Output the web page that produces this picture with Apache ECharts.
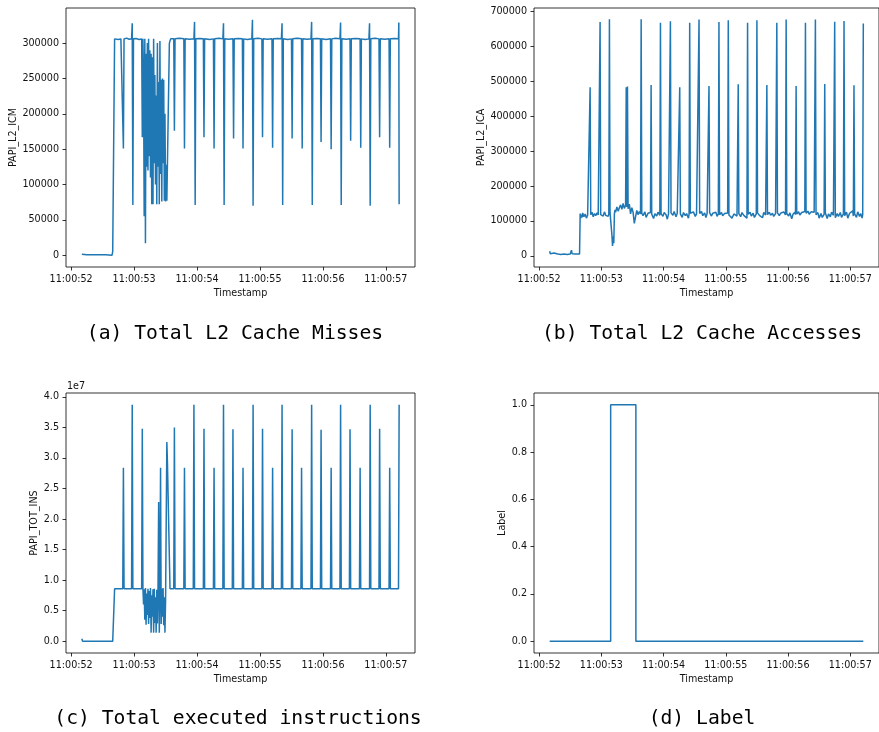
<!DOCTYPE html>
<html>
<head>
<meta charset="utf-8">
<script src="https://cdn.jsdelivr.net/npm/echarts@6/dist/echarts.min.js"></script>
<style>
  html, body { margin: 0; padding: 0; background: #fff; }
  #main { width: 879px; height: 732px; }
</style>
</head>
<body>
<div id="main"></div>
<script>
// tick labels (seconds of 11:00:xx)
var secondTicks = [52, 53, 54, 55, 56, 57];
var icmTicks = [0, 50000, 100000, 150000, 200000, 250000, 300000];
var icaTicks = [0, 100000, 200000, 300000, 400000, 500000, 600000, 700000];
var insTicks = [0, 5e6, 10e6, 15e6, 20e6, 25e6, 30e6, 35e6, 40e6];
var labelTicks = [0, 0.2, 0.4, 0.6, 0.8, 1.0];

// (a) PAPI_L2_ICM  [second, value]
var l2Misses = [
  [52.17, 1500], [52.18, 0], [52.25, 600], [52.26, 0], [52.55, 800], [52.56, 0], [52.65, 0],
  [52.66, 5000], [52.69, 306000], [52.72, 306500], [52.75, 305000], [52.77, 307500], [52.79, 306000],
  [52.82, 306000], [52.83, 151000], [52.84, 306000], [52.88, 307000], [52.92, 305500],
  [52.96, 306000], [52.97, 328000], [52.98, 71000], [52.99, 306000], [53.03, 306500], [53.08, 305000],
  [53.12, 306000], [53.13, 167000], [53.14, 306000], [53.15, 248000], [53.16, 55000], [53.17, 306000],
  [53.18, 17000], [53.19, 285000], [53.2, 125000], [53.21, 300000], [53.22, 120000], [53.23, 306000],
  [53.24, 140000], [53.25, 290000], [53.26, 110000], [53.27, 285000], [53.28, 72000], [53.29, 280000],
  [53.3, 72000], [53.31, 306000], [53.32, 130000], [53.33, 255000], [53.34, 100000], [53.35, 226000],
  [53.36, 72000], [53.37, 300000], [53.38, 125000], [53.39, 245000], [53.4, 72000], [53.41, 303000],
  [53.42, 115000], [53.43, 248000], [53.44, 76000], [53.45, 250000], [53.46, 130000], [53.47, 248000],
  [53.48, 77000], [53.49, 200000], [53.5, 76000], [53.51, 128000], [53.52, 77000], [53.53, 78000],
  [53.56, 300000], [53.58, 306000], [53.61, 305000],
  [53.63, 306000], [53.64, 176000], [53.65, 306000], [53.72, 307000],
  [53.79, 306000], [53.8, 151000], [53.81, 306000], [53.88, 305500],
  [53.95, 306000], [53.96, 330000], [53.97, 71000], [53.98, 306000], [54.04, 306500],
  [54.1, 306000], [54.11, 167000], [54.12, 306000], [54.2, 305000],
  [54.26, 306000], [54.27, 151000], [54.28, 306000], [54.35, 307000],
  [54.41, 306000], [54.42, 328000], [54.43, 71000], [54.44, 306000], [54.5, 305500],
  [54.57, 306000], [54.58, 165000], [54.59, 306000], [54.66, 306500],
  [54.72, 306000], [54.73, 151000], [54.74, 306000], [54.8, 305000],
  [54.87, 306000], [54.88, 333000], [54.89, 70000], [54.9, 306000], [54.97, 307000],
  [55.03, 306000], [55.04, 167000], [55.05, 306000], [55.12, 305500],
  [55.19, 306000], [55.2, 152000], [55.21, 306000], [55.28, 306500],
  [55.34, 306000], [55.35, 328000], [55.36, 71000], [55.37, 306000], [55.44, 305000],
  [55.5, 306000], [55.51, 165000], [55.52, 306000], [55.59, 307000],
  [55.66, 306000], [55.67, 151000], [55.68, 306000], [55.75, 305500],
  [55.81, 306000], [55.82, 330000], [55.83, 71000], [55.84, 306000], [55.9, 306500],
  [55.96, 306000], [55.97, 160000], [55.98, 306000], [56.05, 305000],
  [56.12, 306000], [56.13, 150000], [56.14, 306000], [56.2, 307000],
  [56.27, 306000], [56.28, 329000], [56.29, 71000], [56.3, 306000], [56.37, 305500],
  [56.43, 306000], [56.44, 162000], [56.45, 306000], [56.52, 306500],
  [56.59, 306000], [56.6, 152000], [56.61, 306000], [56.67, 305000],
  [56.73, 306000], [56.74, 328000], [56.75, 70000], [56.76, 306000], [56.83, 307000],
  [56.89, 306000], [56.9, 167000], [56.91, 306000], [56.98, 305500],
  [57.05, 306000], [57.06, 152000], [57.07, 306000], [57.14, 306500],
  [57.2, 306000], [57.205, 329000], [57.21, 72000]
];

// (b) PAPI_L2_ICA  [second, value]
var l2Accesses = [
  [52.17, 13000], [52.18, 6000], [52.2, 5000], [52.24, 8000], [52.25, 4000], [52.3, 5000],
  [52.35, 4000], [52.4, 5000], [52.45, 4000], [52.5, 5000], [52.52, 16000], [52.53, 6000],
  [52.58, 5000], [52.65, 5000], [52.66, 121000], [52.67, 108000], [52.68, 118000], [52.69, 110000],
  [52.7, 123000], [52.72, 112000], [52.74, 120000], [52.76, 108000], [52.78, 117000], [52.8, 113000],
  [52.81, 120000], [52.82, 483000], [52.83, 118000], [52.85, 125000], [52.87, 112000], [52.89, 121000],
  [52.91, 115000], [52.93, 123000], [52.95, 117000], [52.97, 119000], [52.98, 670000], [52.99, 118000],
  [53.01, 122000], [53.03, 114000], [53.05, 126000], [53.07, 116000], [53.09, 121000], [53.11, 113000],
  [53.12, 120000], [53.13, 678000], [53.14, 123000], [53.16, 118000], [53.17, 60000], [53.18, 28000],
  [53.19, 55000], [53.2, 36000], [53.21, 120000], [53.22, 132000], [53.23, 125000], [53.25, 140000],
  [53.27, 128000], [53.29, 138000], [53.31, 146000], [53.33, 133000], [53.35, 150000], [53.37, 136000],
  [53.39, 145000], [53.4, 483000], [53.41, 140000], [53.42, 485000], [53.43, 135000], [53.45, 148000],
  [53.47, 120000], [53.49, 138000], [53.51, 125000], [53.53, 93000], [53.55, 112000], [53.57, 130000],
  [53.59, 118000], [53.61, 127000], [53.63, 120000], [53.64, 678000],
  [53.65, 122000], [53.67, 115000], [53.7, 126000], [53.72, 110000], [53.75, 122000], [53.77, 117000],
  [53.79, 124000], [53.8, 489500],
  [53.81, 119000], [53.84, 107000], [53.86, 121000], [53.89, 114000], [53.91, 125000], [53.94, 116000],
  [53.95, 667600],
  [53.96, 121000], [53.99, 113000], [54.01, 124000], [54.04, 118000], [54.06, 105000], [54.08, 120000],
  [54.1, 117000], [54.11, 672000],
  [54.12, 123000], [54.15, 116000], [54.17, 127000], [54.2, 112000], [54.22, 122000], [54.25, 118000],
  [54.26, 483000],
  [54.27, 120000], [54.3, 110000], [54.32, 124000], [54.35, 115000], [54.37, 121000], [54.4, 108000],
  [54.41, 119000], [54.42, 667600],
  [54.43, 122000], [54.46, 117000], [54.48, 126000], [54.51, 113000], [54.53, 120000], [54.56, 116000],
  [54.57, 677000],
  [54.58, 121000], [54.61, 127000], [54.63, 115000], [54.66, 123000], [54.68, 110000], [54.7, 121000],
  [54.72, 118000], [54.73, 486500],
  [54.74, 124000], [54.77, 114000], [54.79, 122000], [54.82, 117000], [54.84, 125000], [54.86, 113000],
  [54.88, 120000], [54.89, 669600],
  [54.9, 118000], [54.93, 124000], [54.95, 115000], [54.98, 121000], [55.0, 119000], [55.03, 123000],
  [55.04, 675000],
  [55.05, 117000], [55.08, 122000], [55.1, 108000], [55.13, 120000], [55.15, 125000], [55.18, 114000],
  [55.19, 119000], [55.2, 491400],
  [55.21, 121000], [55.24, 112000], [55.26, 124000], [55.29, 116000], [55.31, 121000], [55.34, 108000],
  [55.35, 667600],
  [55.36, 119000], [55.39, 125000], [55.41, 114000], [55.44, 122000], [55.46, 110000], [55.49, 120000],
  [55.5, 675000],
  [55.51, 123000], [55.54, 116000], [55.56, 121000], [55.59, 109000], [55.61, 124000], [55.64, 117000],
  [55.65, 120000], [55.66, 489500],
  [55.67, 118000], [55.7, 125000], [55.72, 116000], [55.75, 122000], [55.77, 113000], [55.8, 121000],
  [55.82, 667600],
  [55.83, 123000], [55.86, 115000], [55.88, 122000], [55.91, 118000], [55.93, 126000], [55.96, 117000],
  [55.97, 677000],
  [55.98, 121000], [56.01, 114000], [56.03, 123000], [56.06, 106000], [56.08, 119000], [56.11, 125000],
  [56.12, 118000], [56.13, 486500],
  [56.14, 120000], [56.17, 126000], [56.19, 117000], [56.22, 124000], [56.24, 121000], [56.27, 127000],
  [56.28, 667600],
  [56.29, 122000], [56.32, 128000], [56.34, 119000], [56.37, 126000], [56.39, 121000], [56.42, 125000],
  [56.44, 677000],
  [56.45, 118000], [56.48, 124000], [56.5, 108000], [56.53, 121000], [56.55, 110000], [56.58, 119000],
  [56.59, 492000],
  [56.6, 123000], [56.63, 107000], [56.65, 120000], [56.68, 112000], [56.7, 125000], [56.73, 116000],
  [56.75, 670500],
  [56.76, 109000], [56.79, 121000], [56.81, 113000], [56.84, 124000], [56.86, 110000], [56.89, 120000],
  [56.9, 673000],
  [56.91, 115000], [56.94, 125000], [56.96, 108000], [56.99, 122000], [57.01, 117000], [57.04, 129000],
  [57.05, 114000], [57.06, 488500],
  [57.07, 120000], [57.1, 110000], [57.12, 126000], [57.15, 113000], [57.17, 121000], [57.19, 108000],
  [57.2, 118000], [57.21, 665700]
];

// (c) PAPI_TOT_INS  [second, value]
var totIns = [
  [52.17, 400000], [52.18, 0], [52.66, 0], [52.69, 8600000],
  [52.82, 8600000], [52.83, 28400000], [52.84, 8600000],
  [52.96, 8600000], [52.97, 38700000], [52.98, 8600000],
  [53.12, 8600000], [53.13, 34800000], [53.14, 8600000],
  [53.15, 6000000], [53.16, 8500000], [53.17, 3500000], [53.18, 8700000], [53.19, 2700000],
  [53.2, 7800000], [53.21, 4300000], [53.22, 8600000], [53.23, 2800000], [53.24, 8200000],
  [53.25, 3800000], [53.26, 8700000], [53.27, 1400000], [53.28, 7500000], [53.29, 4000000],
  [53.3, 8500000], [53.31, 1400000], [53.32, 8600000], [53.33, 3000000], [53.34, 7200000],
  [53.35, 1400000], [53.36, 8400000], [53.37, 2900000], [53.38, 8700000], [53.39, 22800000],
  [53.4, 1400000], [53.41, 8000000], [53.42, 28400000], [53.43, 2800000], [53.44, 8600000],
  [53.45, 4000000], [53.46, 8700000], [53.47, 2600000], [53.48, 7200000], [53.49, 1400000],
  [53.5, 6800000], [53.52, 32600000], [53.53, 29000000], [53.54, 28800000], [53.57, 8600000],
  [53.63, 8600000], [53.64, 35000000], [53.65, 8600000],
  [53.79, 8600000], [53.8, 28400000], [53.81, 8600000],
  [53.94, 8600000], [53.95, 38700000], [53.96, 8600000],
  [54.1, 8600000], [54.11, 34800000], [54.12, 8600000],
  [54.26, 8600000], [54.27, 28400000], [54.28, 8600000],
  [54.41, 8600000], [54.42, 38700000], [54.43, 8600000],
  [54.56, 8600000], [54.57, 34700000], [54.58, 8600000],
  [54.72, 8600000], [54.73, 28400000], [54.74, 8600000],
  [54.88, 8600000], [54.89, 38700000], [54.9, 8600000],
  [55.03, 8600000], [55.04, 34800000], [55.05, 8600000],
  [55.19, 8600000], [55.2, 28400000], [55.21, 8600000],
  [55.34, 8600000], [55.35, 38700000], [55.36, 8600000],
  [55.5, 8600000], [55.51, 34700000], [55.52, 8600000],
  [55.65, 8600000], [55.66, 28400000], [55.67, 8600000],
  [55.81, 8600000], [55.82, 38700000], [55.83, 8600000],
  [55.96, 8600000], [55.97, 34600000], [55.98, 8600000],
  [56.12, 8600000], [56.13, 28400000], [56.14, 8600000],
  [56.27, 8600000], [56.28, 38700000], [56.29, 8600000],
  [56.42, 8600000], [56.43, 34700000], [56.44, 8600000],
  [56.58, 8600000], [56.59, 28400000], [56.6, 8600000],
  [56.74, 8600000], [56.75, 38700000], [56.76, 8600000],
  [56.89, 8600000], [56.9, 34800000], [56.91, 8600000],
  [57.05, 8600000], [57.06, 28400000], [57.07, 8600000],
  [57.2, 8600000], [57.21, 38700000]
];

// (d) Label  [second, value]
var labelSeries = [
  [52.17, 0], [53.15, 0], [53.15, 1], [53.555, 1], [53.555, 0], [57.21, 0]
];

var captions = [
  '(a) Total L2 Cache Misses',
  '(b) Total L2 Cache Accesses',
  '(c) Total executed instructions',
  '(d) Label'
];
var yNames = ['PAPI_L2_ICM', 'PAPI_L2_ICA', 'PAPI_TOT_INS', 'Label'];

var tickFont = { fontFamily: 'DejaVu Sans', fontSize: 9.6, color: '#111' };
var blue = '#1f77b4';

function xAxisFor(i) {
  return {
    type: 'value',
    gridIndex: i,
    min: 51.918,
    max: 57.462,
    name: 'Timestamp',
    nameLocation: 'middle',
    nameGap: 21,
    nameTextStyle: tickFont,
    splitLine: { show: false },
    axisLine: { show: false, onZero: false },
    axisTick: { show: true, length: 3.5, lineStyle: { color: '#000', width: 0.8 }, customValues: secondTicks },
    axisLabel: Object.assign({
      margin: 7,
      customValues: secondTicks,
      formatter: function (v) { return '11:00:' + Math.round(v); }
    }, tickFont)
  };
}

function yAxisFor(i, min, max, ticks, gap, fmt) {
  return {
    type: 'value',
    gridIndex: i,
    min: min,
    max: max,
    name: yNames[i],
    nameLocation: 'middle',
    nameGap: gap,
    nameTextStyle: tickFont,
    splitLine: { show: false },
    axisLine: { show: false, onZero: false },
    axisTick: { show: true, length: 3.5, lineStyle: { color: '#000', width: 0.8 }, customValues: ticks },
    axisLabel: Object.assign({ margin: 7, customValues: ticks, formatter: fmt }, tickFont)
  };
}

function lineFor(i, data) {
  return {
    type: 'line',
    xAxisIndex: i,
    yAxisIndex: i,
    data: data,
    showSymbol: false,
    lineStyle: { color: blue, width: 1.5 },
    itemStyle: { color: blue }
  };
}

var gridStyle = { show: true, borderColor: '#000', borderWidth: 0.8, backgroundColor: 'transparent' };

var myChart = echarts.init(document.getElementById('main'), null, { renderer: 'canvas' });

var option = {
  animation: false,
  backgroundColor: '#fff',
  grid: [
    Object.assign({ left: 66, top: 8, width: 349, height: 259 }, gridStyle),
    Object.assign({ left: 534, top: 8, width: 349, height: 259 }, gridStyle),
    Object.assign({ left: 66, top: 393, width: 349, height: 260 }, gridStyle),
    Object.assign({ left: 534, top: 393, width: 349, height: 260 }, gridStyle)
  ],
  xAxis: [xAxisFor(0), xAxisFor(1), xAxisFor(2), xAxisFor(3)],
  yAxis: [
    yAxisFor(0, -16650, 349650, icmTicks, 47, function (v) { return String(v); }),
    yAxisFor(1, -32000, 710000, icaTicks, 48, function (v) { return String(v); }),
    yAxisFor(2, -1935000, 40635000, insTicks, 26, function (v) { return (v / 1e7).toFixed(1); }),
    yAxisFor(3, -0.05, 1.05, labelTicks, 27, function (v) { return v.toFixed(1); })
  ],
  series: [
    lineFor(0, l2Misses),
    lineFor(1, l2Accesses),
    lineFor(2, totIns),
    lineFor(3, labelSeries)
  ],
  graphic: [
    { type: 'text', x: 67, y: 386, style: { text: '1e7', font: '9.6px "DejaVu Sans"', fill: '#111', verticalAlign: 'middle' } },
    { type: 'text', x: 235, y: 334, style: { text: captions[0], font: '19.7px "DejaVu Sans Mono"', fill: '#000', align: 'center', verticalAlign: 'middle' } },
    { type: 'text', x: 702, y: 334, style: { text: captions[1], font: '19.7px "DejaVu Sans Mono"', fill: '#000', align: 'center', verticalAlign: 'middle' } },
    { type: 'text', x: 238, y: 719, style: { text: captions[2], font: '19.7px "DejaVu Sans Mono"', fill: '#000', align: 'center', verticalAlign: 'middle' } },
    { type: 'text', x: 702, y: 719, style: { text: captions[3], font: '19.7px "DejaVu Sans Mono"', fill: '#000', align: 'center', verticalAlign: 'middle' } }
  ]
};

myChart.setOption(option);
</script>
</body>
</html>
